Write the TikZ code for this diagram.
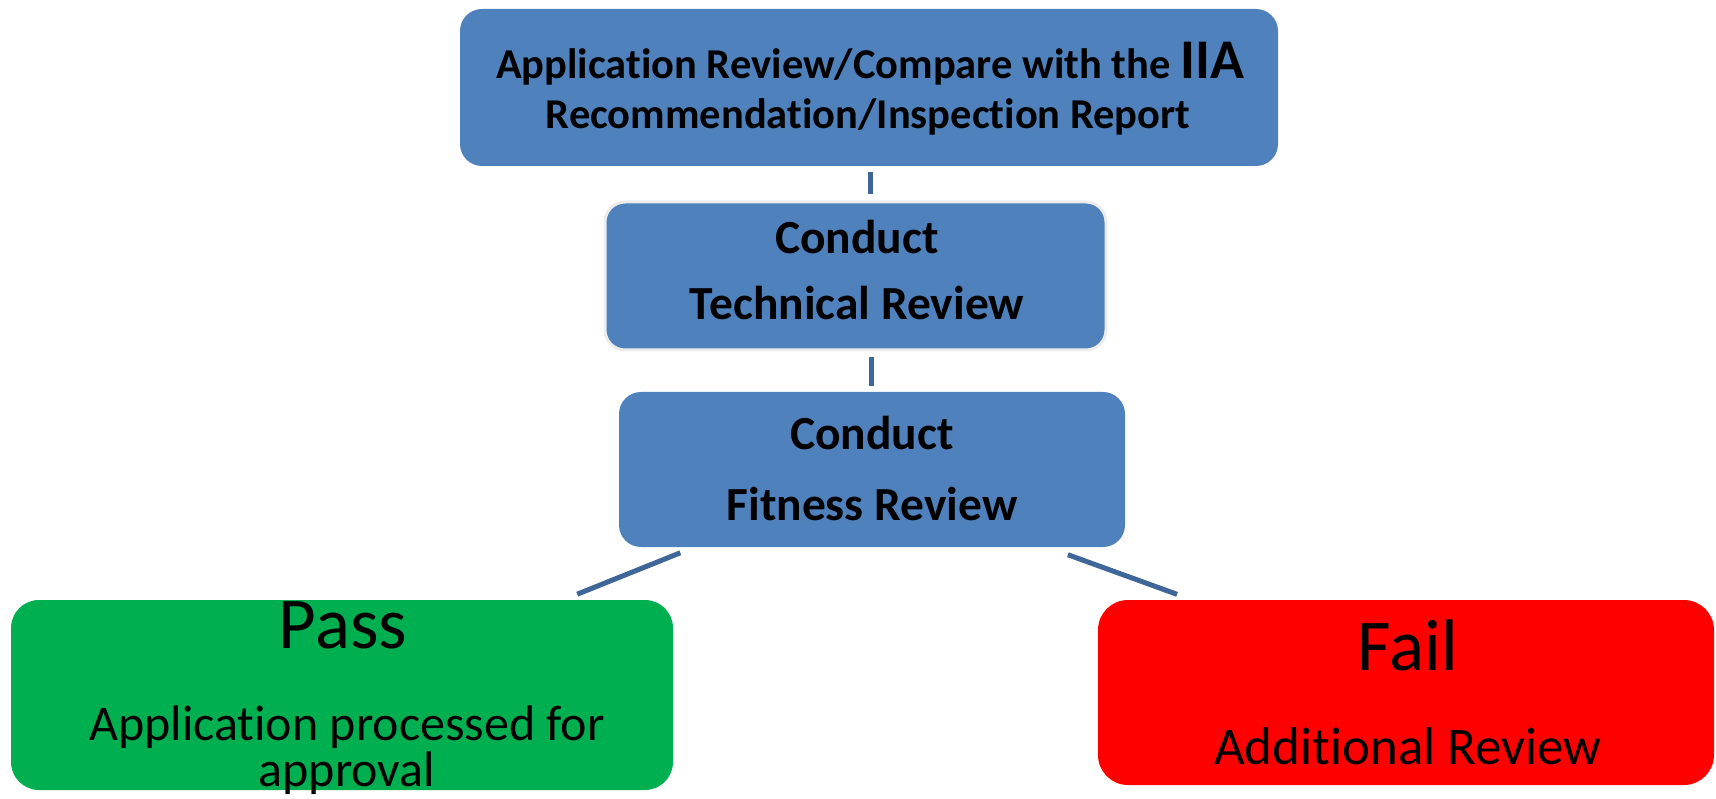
\documentclass[tikz,border=0pt]{standalone}
\usepackage{fontspec}
\setmainfont{Carlito}[Ligatures=NoCommon]
\usetikzlibrary{calc}
\definecolor{boxblue}{RGB}{79,129,189}
\definecolor{passgreen}{RGB}{0,176,80}
\definecolor{failred}{RGB}{255,0,0}
\definecolor{linkblue}{RGB}{62,102,153}
\begin{document}
\begin{tikzpicture}[x=1pt,y=-1pt,
  box/.style={fill=boxblue, draw=none, rounded corners=22pt, inner sep=0pt},
  link/.style={draw=linkblue, line width=5pt, shorten <=6pt, shorten >=6pt},
  bt/.style={font=\bfseries\fontsize{42.5}{48}\selectfont, anchor=base, inner sep=0pt},
  ct/.style={font=\bfseries\fontsize{47.5}{52}\selectfont, anchor=base, inner sep=0pt},
  rt/.style={font=\fontsize{50}{54}\selectfont, anchor=base, inner sep=0pt},
  big/.style={font=\fontsize{73}{78}\selectfont, anchor=base, inner sep=0pt}]
\useasboundingbox (0,0) rectangle (1716,799);
% boxes
\node[box, minimum width=818pt, minimum height=157pt] (top) at (869,87.5) {};
\node[box, rounded corners=20pt, draw=black!7, line width=3pt, minimum width=501pt, minimum height=148pt] (tech) at (855.5,276) {};
\node[box, minimum width=506pt, minimum height=155pt] (fit) at (872,469.5) {};
\node[box, fill=passgreen, rounded corners=28pt, minimum width=662pt, minimum height=190pt] (pass) at (342,695) {};
\node[box, fill=failred, rounded corners=30pt, minimum width=616pt, minimum height=185pt] (fail) at (1406,692.5) {};
% texts
\node[bt] (t1) at (870,79) {Application Review/Compare with the {\fontsize{56}{56}\selectfont IIA}};
\node[bt] (t2) at (868,129) {Recommendation/Inspection Report};
\node[ct] (t3) at (857,254) {Conduct};
\node[ct] (t4) at (857,320) {Technical Review};
\node[ct] (t5) at (872,449) {Conduct};
\node[ct] (t6) at (872,520) {Fitness Review};
\node[big] (t7) at (343,648) {Pass};
\node[rt] (t8) at (347,740) {Application processed for};
\node[rt] (t9) at (347,786) {approval};
\node[big] (t10) at (1408,670) {Fail};
\node[rt, font=\fontsize{53}{58}\selectfont] (t11) at (1408,764) {Additional Review};
% connectors
\draw[link] (top.south -| 870,0) -- (tech.north -| 870,0);
\draw[link] (tech.south -| 871,0) -- (fit.north -| 871,0);
\draw[link, shorten <=15pt, shorten >=15pt] ($(fit.south west)!0.149!(fit.south east)$) -- ($(pass.north west)!0.834!(pass.north east)$);
\draw[link, shorten <=22pt, shorten >=16pt] ($(fit.south west)!0.846!(fit.south east)$) -- ($(fail.north west)!0.153!(fail.north east)$);
\end{tikzpicture}
\end{document}
